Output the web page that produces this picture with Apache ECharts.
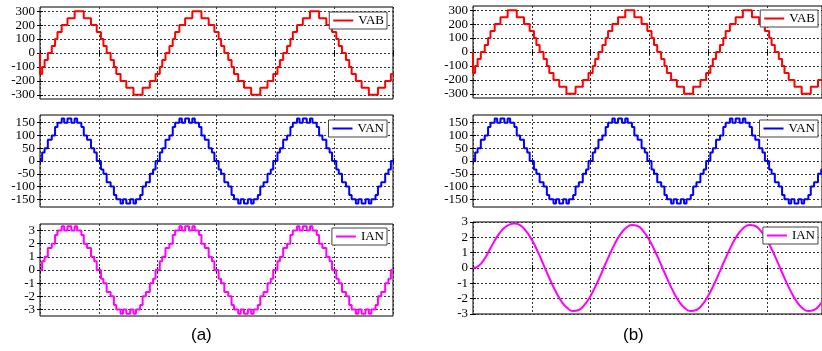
<!DOCTYPE html>
<html lang="en" style="height: 100%">
<head>
    <meta charset="UTF-8">
    <title>VAB VAN IAN</title>
    <script src="https://cdn.jsdelivr.net/npm/echarts@6/dist/echarts.min.js"></script>
</head>
<body style="margin:0; height: 100%">
<div id="main" style="width: 822px; height: 351px"></div>
<script>
    // staircase line voltage VAB, time in ms, value in V
    var tVab = [0, 0, 0.36, 0.78, 1.33, 2.00, 2.56, 2.97, 3.69, 4.67, 5.89, 7.44, 8.67, 9.64, 10.36, 10.78, 11.33, 12.00, 12.56, 12.97, 13.69, 14.67, 15.89, 17.44, 18.67, 19.64,
        20.36, 20.78, 21.33, 22.00, 22.56, 22.97, 23.69, 24.67, 25.89, 27.44, 28.67, 29.64, 30.36, 30.78, 31.33, 32.00, 32.56, 32.97, 33.69, 34.67, 35.89, 37.44, 38.67, 39.64,
        40.36, 40.78, 41.33, 42.00, 42.56, 42.97, 43.69, 44.67, 45.89, 47.44, 48.67, 49.64, 50.36, 50.78, 51.33, 52.00, 52.56, 52.97, 53.69, 54.67, 55.89, 57.44, 58.67, 59.64,
        60.36, 60.78, 61.2];
    var vab = [0, -150, -100, -50, 0, 50, 100, 150, 200, 250, 300, 250, 200, 150, 100, 50, 0, -50, -100, -150, -200, -250, -300, -250, -200, -150,
        -100, -50, 0, 50, 100, 150, 200, 250, 300, 250, 200, 150, 100, 50, 0, -50, -100, -150, -200, -250, -300, -250, -200, -150,
        -100, -50, 0, 50, 100, 150, 200, 250, 300, 250, 200, 150, 100, 50, 0, -50, -100, -150, -200, -250, -300, -250, -200, -150,
        -100, -50, -50];

    // phase voltage VAN and staircase current IAN (a) share the same step times
    var tVan = [0, 0.36, 0.78, 1.33, 2.00, 2.56, 2.97, 3.69, 4.11, 4.67, 5.33, 5.89, 6.31, 7.03, 7.44, 8.00, 8.67, 9.22, 9.64, 10.36, 10.78, 11.33, 12.00, 12.56, 12.97, 13.69, 14.11, 14.67, 15.33, 15.89, 16.31, 17.03, 17.44, 18.00, 18.67, 19.22, 19.64,
        20.36, 20.78, 21.33, 22.00, 22.56, 22.97, 23.69, 24.11, 24.67, 25.33, 25.89, 26.31, 27.03, 27.44, 28.00, 28.67, 29.22, 29.64, 30.36, 30.78, 31.33, 32.00, 32.56, 32.97, 33.69, 34.11, 34.67, 35.33, 35.89, 36.31, 37.03, 37.44, 38.00, 38.67, 39.22, 39.64,
        40.36, 40.78, 41.33, 42.00, 42.56, 42.97, 43.69, 44.11, 44.67, 45.33, 45.89, 46.31, 47.03, 47.44, 48.00, 48.67, 49.22, 49.64, 50.36, 50.78, 51.33, 52.00, 52.56, 52.97, 53.69, 54.11, 54.67, 55.33, 55.89, 56.31, 57.03, 57.44, 58.00, 58.67, 59.22, 59.64,
        60.36, 60.78, 61.2];
    var van = [0, 33.3, 50, 83.3, 100, 133.3, 150, 166.7, 150, 166.7, 150, 166.7, 150, 133.3, 100, 83.3, 50, 33.3, 0, -33.3, -50, -83.3, -100, -133.3, -150, -166.7, -150, -166.7, -150, -166.7, -150, -133.3, -100, -83.3, -50, -33.3, 0,
        33.3, 50, 83.3, 100, 133.3, 150, 166.7, 150, 166.7, 150, 166.7, 150, 133.3, 100, 83.3, 50, 33.3, 0, -33.3, -50, -83.3, -100, -133.3, -150, -166.7, -150, -166.7, -150, -166.7, -150, -133.3, -100, -83.3, -50, -33.3, 0,
        33.3, 50, 83.3, 100, 133.3, 150, 166.7, 150, 166.7, 150, 166.7, 150, 133.3, 100, 83.3, 50, 33.3, 0, -33.3, -50, -83.3, -100, -133.3, -150, -166.7, -150, -166.7, -150, -166.7, -150, -133.3, -100, -83.3, -50, -33.3, 0,
        33.3, 50, 50];
    var ianA = [0, 0.67, 1, 1.67, 2, 2.67, 3, 3.33, 3, 3.33, 3, 3.33, 3, 2.67, 2, 1.67, 1, 0.67, 0, -0.67, -1, -1.67, -2, -2.67, -3, -3.33, -3, -3.33, -3, -3.33, -3, -2.67, -2, -1.67, -1, -0.67, 0,
        0.67, 1, 1.67, 2, 2.67, 3, 3.33, 3, 3.33, 3, 3.33, 3, 2.67, 2, 1.67, 1, 0.67, 0, -0.67, -1, -1.67, -2, -2.67, -3, -3.33, -3, -3.33, -3, -3.33, -3, -2.67, -2, -1.67, -1, -0.67, 0,
        0.67, 1, 1.67, 2, 2.67, 3, 3.33, 3, 3.33, 3, 3.33, 3, 2.67, 2, 1.67, 1, 0.67, 0, -0.67, -1, -1.67, -2, -2.67, -3, -3.33, -3, -3.33, -3, -3.33, -3, -2.67, -2, -1.67, -1, -0.67, 0,
        0.67, 1, 1];

    // smooth current IAN (b), one sample per ms
    var tIanB = [0, 1, 2, 3, 4, 5, 6, 7, 8, 9, 10, 11, 12, 13, 14, 15, 16, 17, 18, 19, 20, 21, 22, 23, 24, 25, 26, 27, 28, 29, 30,
        31, 32, 33, 34, 35, 36, 37, 38, 39, 40, 41, 42, 43, 44, 45, 46, 47, 48, 49, 50, 51, 52, 53, 54, 55, 56, 57, 58, 59, 60, 61];
    var ianB = [0, 0.15, 0.62, 1.32, 1.98, 2.50, 2.80, 2.90, 2.80, 2.42, 1.84, 1.08, 0.21, -0.67, -1.48, -2.15, -2.60, -2.81, -2.74, -2.39, -1.81,
        -1.06, -0.20, 0.68, 1.49, 2.16, 2.61, 2.81, 2.74, 2.39, 1.81, 1.06, 0.20, -0.68, -1.49, -2.16, -2.61, -2.81, -2.74, -2.39, -1.81,
        -1.06, -0.20, 0.68, 1.49, 2.16, 2.61, 2.81, 2.74, 2.39, 1.81, 1.06, 0.20, -0.68, -1.49, -2.16, -2.61, -2.81, -2.74, -2.39, -1.81, -1.06];

    var vabTicks = [-300, -200, -100, 0, 100, 200, 300];
    var vanTicks = [-150, -100, -50, 0, 50, 100, 150];
    var ianTicks = [-3, -2, -1, 0, 1, 2, 3];

    function pairs(t, v) {
        return t.map(function (x, i) { return [x, v[i]]; });
    }

    var panels = [
        {left: 40, width: 353, xMax: 60, top: 7, yMin: -330, yMax: 330, ticks: vabTicks, name: 'VAB', color: '#ff0000', data: pairs(tVab, vab), step: 'end', legRight: 435, legTop: 12},
        {left: 40, width: 353, xMax: 60, top: 115, yMin: -180, yMax: 180, ticks: vanTicks, name: 'VAN', color: '#0000ff', data: pairs(tVan, van), step: 'end', legRight: 435, legTop: 120},
        {left: 40, width: 353, xMax: 60, top: 224, yMin: -3.5, yMax: 3.5, ticks: ianTicks, name: 'IAN', color: '#ff00ff', data: pairs(tVan, ianA), step: 'end', legRight: 435, legTop: 228},
        {left: 473, width: 349, xMax: 59.35, top: 6, yMin: -330, yMax: 330, ticks: vabTicks, name: 'VAB', color: '#ff0000', data: pairs(tVab, vab), step: 'end', legRight: 4, legTop: 10},
        {left: 473, width: 349, xMax: 59.35, top: 115, yMin: -180, yMax: 180, ticks: vanTicks, name: 'VAN', color: '#0000ff', data: pairs(tVan, van), step: 'end', legRight: 4, legTop: 120},
        {left: 473, width: 349, xMax: 59.35, top: 222, yMin: -3, yMax: 3, ticks: ianTicks, name: 'IAN', color: '#ff00ff', data: pairs(tIanB, ianB), step: false, smooth: true, legRight: 4, legTop: 227}
    ];

    var grid = [], xAxis = [], yAxis = [], series = [], legend = [];
    var gridLine = {show: true, lineStyle: {color: '#333', width: 1, type: [2, 2]}};
    var tickStyle = {inside: true, length: 3, lineStyle: {color: '#000'}};
    var labelFont = {margin: 5, color: '#000', fontFamily: 'Liberation Serif', fontSize: 13,
        hideOverlap: false, showMinLabel: true, showMaxLabel: true};

    panels.forEach(function (p, i) {
        grid.push({left: p.left, top: p.top, width: p.width, height: 92, show: true,
            borderColor: '#000', borderWidth: 1, backgroundColor: 'transparent'});
        xAxis.push({gridIndex: i, type: 'value', min: 0, max: p.xMax, interval: 10,
            axisLine: {show: false}, axisTick: tickStyle, axisLabel: {show: false}, splitLine: gridLine});
        xAxis.push({gridIndex: i, type: 'value', position: 'top', min: 0, max: p.xMax, interval: 10,
            axisLine: {show: false}, axisTick: tickStyle, axisLabel: {show: false}, splitLine: {show: false}});
        // main axis: ticks + grid lines
        yAxis.push({gridIndex: i, type: 'value', min: p.yMin, max: p.yMax,
            axisLine: {show: false},
            axisTick: {inside: true, length: 3, customValues: p.ticks, lineStyle: {color: '#000'}},
            axisLabel: {show: false}, splitLine: gridLine});
        yAxis.push({gridIndex: i, type: 'value', position: 'right', min: p.yMin, max: p.yMax,
            axisLine: {show: false},
            axisTick: {inside: true, length: 3, customValues: p.ticks, lineStyle: {color: '#000'}},
            axisLabel: {show: false}, splitLine: {show: false}});
        // labels split over two axes so none get dropped as overlapping
        [0, 1].forEach(function (k) {
            var vals = p.ticks.filter(function (v, j) { return j % 2 === k; });
            yAxis.push({gridIndex: i, type: 'value', position: 'left', offset: 0, min: p.yMin, max: p.yMax,
                axisLine: {show: false}, axisTick: {show: false, customValues: vals}, splitLine: {show: false},
                axisLabel: Object.assign({customValues: vals}, labelFont)});
        });
        series.push({
            name: p.name, type: 'line', xAxisIndex: 2 * i, yAxisIndex: 4 * i,
            data: p.data, step: p.step, smooth: p.smooth || false,
            symbol: 'none', clip: false,
            lineStyle: {color: p.color, width: 2}, itemStyle: {color: p.color}
        });
        legend.push({
            data: [p.name], right: p.legRight, top: p.legTop,
            backgroundColor: '#fff', borderColor: '#444', borderWidth: 1,
            padding: [2, 3], itemWidth: 20, itemHeight: 10, itemGap: 0,
            itemStyle: {opacity: 0}, lineStyle: {width: 2},
            textStyle: {fontFamily: 'Liberation Serif', fontSize: 13, color: '#000'}
        });
    });

    var myoption = {
        animation: false,
        backgroundColor: '#fff',
        grid: grid,
        xAxis: xAxis,
        yAxis: yAxis,
        legend: legend,
        series: series,
        graphic: [
            {type: 'text', left: 191, top: 327, style: {text: '(a)', font: '17px "Liberation Sans"', fill: '#000'}},
            {type: 'text', left: 623, top: 327, style: {text: '(b)', font: '17px "Liberation Sans"', fill: '#000'}}
        ]
    };
    var myChart = echarts.init(document.getElementById('main'));
    myChart.setOption(myoption);
</script>
</body>
</html>
